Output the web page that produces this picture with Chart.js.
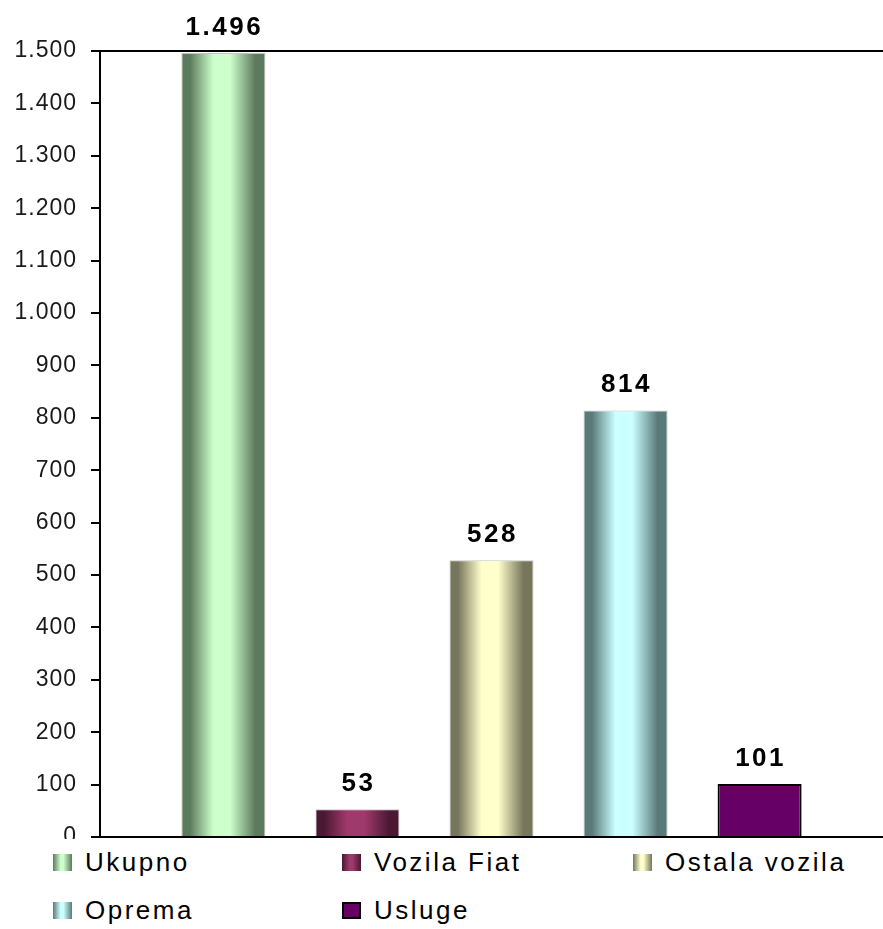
<!DOCTYPE html>
<html>
<head>
<meta charset="utf-8">
<script src="https://cdn.jsdelivr.net/npm/chart.js@4/dist/chart.umd.min.js"></script>
<style>
  html, body { margin: 0; padding: 0; background: #fff; }
  #wrap { position: relative; width: 883px; height: 929px; overflow: hidden; }
  #chart { position: absolute; left: 0; top: 0; }
  #legend { position: absolute; left: 0; top: 839px; width: 883px; height: 90px; background: #fff;
    font-family: "Liberation Sans", Arial, sans-serif; font-size: 26px; letter-spacing: 2.5px; color: #000; }
  .item { position: absolute; display: flex; align-items: center; height: 30px; }
  .box { width: 19px; height: 17px; margin-right: 13px; box-sizing: border-box; }
</style>
</head>
<body>
<div id="wrap">
  <canvas id="chart" width="883" height="929"></canvas>
  <div id="legend"></div>
</div>
<script>
// podaci
let categories = [""];
let seriesNames = ["Ukupno", "Vozila Fiat", "Ostala vozila", "Oprema", "Usluge"];
let seriesValues = [1496, 53, 528, 814, 101];
let yMax = 1500;
let yStep = 100;

// boje: [rub, sredina] za cilindricni gradijent
let barColors = [
  ["#5c7a5c", "#ccffcc"],
  ["#4a1833", "#a03a6c"],
  ["#76765c", "#ffffcc"],
  ["#5a7a7a", "#ccffff"],
  ["#660066", "#660066"],
];

function formatBroj(n) {
  return String(n).replace(/\B(?=(\d{3})+(?!\d))/g, ".");
}

function cssGradient(c) {
  return "linear-gradient(to right, " + c[0] + " 0%, " + c[1] + " 40%, " + c[1] + " 55%, " + c[0] + " 100%)";
}

// gradijent po sirini stupca
const cylinderPlugin = {
  id: "cylinder",
  beforeDatasetsDraw(chart) {
    const ctx = chart.ctx;
    chart.data.datasets.forEach((ds, i) => {
      const el = chart.getDatasetMeta(i).data[0];
      if (!el || i === 4) return;
      const left = el.x - el.width / 2;
      const right = el.x + el.width / 2;
      const g = ctx.createLinearGradient(left, 0, right, 0);
      const c = barColors[i];
      g.addColorStop(0, c[0]);
      g.addColorStop(0.1, c[0]);
      g.addColorStop(0.38, c[1]);
      g.addColorStop(0.58, c[1]);
      g.addColorStop(0.88, c[0]);
      g.addColorStop(1, c[0]);
      el.options = Object.assign({}, el.options, { backgroundColor: g });
    });
  },
};

// vrijednosti iznad stupaca
const labelPlugin = {
  id: "valueLabels",
  afterDatasetsDraw(chart) {
    const ctx = chart.ctx;
    ctx.save();
    ctx.font = "bold 26px 'Liberation Sans', Arial, sans-serif";
    ctx.letterSpacing = "2.5px";
    ctx.fillStyle = "#000";
    ctx.textAlign = "center";
    ctx.textBaseline = "alphabetic";
    chart.data.datasets.forEach((ds, i) => {
      const el = chart.getDatasetMeta(i).data[0];
      ctx.fillText(formatBroj(ds.data[0]), el.x + 1, el.y - 18);
    });
    ctx.restore();
  },
};

const spacingPlugin = {
  id: "spacing",
  beforeUpdate(chart) {
    chart.ctx.letterSpacing = "1px";
  },
};

let ctx_chart = document.getElementById("chart").getContext("2d");
let chart = new Chart(ctx_chart, {
  type: "bar",
  data: {
    labels: categories,
    datasets: seriesNames.map((name, i) => ({
      label: name,
      data: [seriesValues[i]],
      backgroundColor: barColors[i][1],
      borderColor: i === 4 ? "#000" : "#c4c4c4",
      borderWidth: i === 4 ? 2 : 1,
      categoryPercentage: 0.856,
      barPercentage: 0.627,
    })),
  },
  options: {
    responsive: false,
    animation: false,
    layout: { padding: { top: 51, bottom: 92, left: 0, right: 0 } },
    plugins: {
      legend: { display: false },
      tooltip: { enabled: false },
    },
    scales: {
      x: {
        ticks: { display: false },
        grid: { display: false, drawTicks: false },
        border: { display: true, color: "#000", width: 2 },
        afterFit(scale) { scale.height = 0; },
      },
      y: {
        min: 0,
        max: yMax,
        ticks: {
          stepSize: yStep,
          padding: 14,
          color: "#1a1a1a",
          font: { family: "'Liberation Sans', Arial, sans-serif", size: 23 },
          callback: (v) => formatBroj(v),
        },
        grid: {
          color: (c) => (c.tick && c.tick.value === yMax ? "#000" : "rgba(0,0,0,0)"),
          lineWidth: 2,
          tickColor: "#000",
          tickLength: 9,
          tickWidth: 2,
        },
        border: { display: true, color: "#000", width: 2 },
        afterFit(scale) { scale.width = 100; },
      },
    },
  },
  plugins: [spacingPlugin, cylinderPlugin, labelPlugin],
});

// legenda
let legendPos = [[53, 862], [342, 862], [633, 862], [53, 910], [342, 910]];
let legend = document.getElementById("legend");
seriesNames.forEach((name, i) => {
  const item = document.createElement("div");
  item.className = "item";
  item.style.left = legendPos[i][0] + "px";
  item.style.top = (legendPos[i][1] - 839 - 15) + "px";
  const box = document.createElement("span");
  box.className = "box";
  if (i === 4) {
    box.style.background = barColors[i][1];
    box.style.border = "2px solid #000";
  } else {
    box.style.background = cssGradient(barColors[i]);
  }
  const txt = document.createElement("span");
  txt.textContent = name;
  item.appendChild(box);
  item.appendChild(txt);
  legend.appendChild(item);
});
</script>
</body>
</html>
